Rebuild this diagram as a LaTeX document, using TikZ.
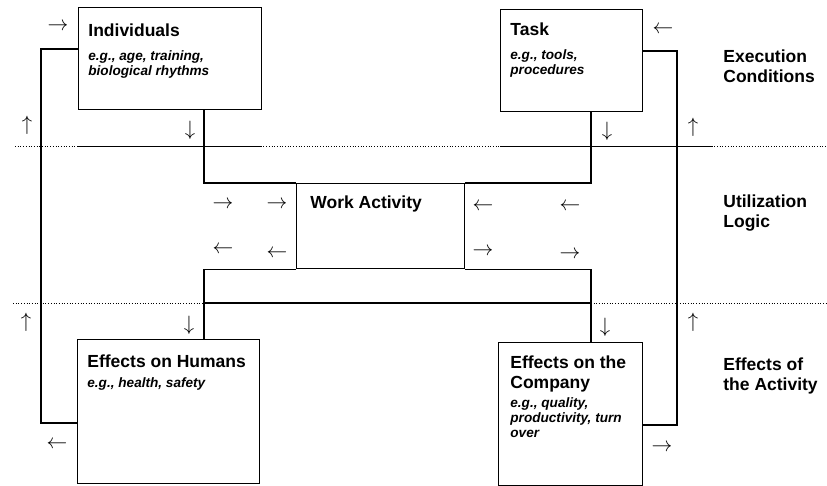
\documentclass[tikz,border=0pt]{standalone}
\usepackage{fontspec}
\setmainfont{Liberation Sans}
\usetikzlibrary{calc, positioning}

\begin{document}
\begin{tikzpicture}[x=1pt, y=-1pt, thick, >=stealth]

		\useasboundingbox (0,0) rectangle (827,486);

		% Define block styles
		\tikzstyle{box} = [rectangle, draw, line width=1.1pt, anchor=north west, inner sep=0pt]
		\tikzstyle{boxtitle} = [anchor=base west, inner sep=0pt, align=left, font=\fontsize{17.5}{20}\selectfont\bfseries]
		\tikzstyle{boxnote} = [anchor=base west, inner sep=0pt, align=left, font=\fontsize{13.6}{15}\selectfont\bfseries\itshape]
		\tikzstyle{flow} = [inner sep=0pt, font=\huge]
		\tikzstyle{link} = [line width=1.1pt]
		\tikzstyle{divider} = [dotted, line width=0.7pt]

		% Boxes
		\node[box, minimum width=183pt, minimum height=102pt] (indiv) at (78,7) {};
		\node[box, minimum width=142pt, minimum height=102pt] (task) at (500,9) {};
		\node[box, minimum width=168pt, minimum height=85pt] (work) at (296,183) {};
		\node[box, minimum width=182pt, minimum height=144pt] (humans) at (77,339) {};
		\node[box, minimum width=144pt, minimum height=143pt] (company) at (498,342) {};

		% Box texts (multi-line texts sit on their last line)
		\node[boxtitle] (indivtitle) at ($(indiv.north west)+(10,30)$) {Individuals};
		\node[boxnote] (indivnote) at ($(indiv.north west)+(10,69)$) {e.g., age, training,\\biological rhythms};
		\node[boxtitle] (tasktitle) at ($(task.north west)+(10,27)$) {Task};
		\node[boxnote] (tasknote) at ($(task.north west)+(10,66)$) {e.g., tools,\\procedures};
		\node[boxtitle] (worktitle) at ($(work.north west)+(14,26)$) {Work Activity};
		\node[boxtitle] (humanstitle) at ($(humans.north west)+(10,28)$) {Effects on Humans};
		\node[boxnote] (humansnote) at ($(humans.north west)+(10,48)$) {e.g., health, safety};
		\node[boxtitle] (companytitle) at ($(company.north west)+(12,46)$) {Effects on the\\Company};
		\node[boxnote] (companynote) at ($(company.north west)+(12,95)$) {e.g., quality,\\productivity, turn\\over};

		% Levels
		\node[boxtitle] (exec) at (723,83) {Execution\\Conditions};
		\node[boxtitle] (util) at (723,228) {Utilization\\Logic};
		\node[boxtitle] (effects) at (723,390) {Effects of\\the Activity};

		% Dividers
		\coordinate (topsep) at (15,146);
		\coordinate (botsep) at (13,303);
		\draw[divider] (topsep) -- (topsep -| 827,0);
		\draw[divider] (botsep) -- (botsep -| 827,0);
		\draw[line width=0.7pt] (topsep -| indiv.west) -- (topsep -| indiv.east);
		\draw[line width=0.7pt] (topsep -| task.west) -- (topsep -| 713,0);

		% Links
		\coordinate (lft) at (204,0);
		\coordinate (rgt) at (591,0);
		\coordinate (loopl) at (41,0);
		\coordinate (loopr) at (677,0);
		\draw[link] (indiv.south -| lft) |- (work.north west);
		\draw[link] (task.south -| rgt) |- (work.north east);
		\draw[link] (work.south west) -| (humans.north -| lft);
		\draw[link] (work.south east) -| (company.north -| rgt);
		\draw[link] (botsep -| lft) -- (botsep -| rgt);
		\coordinate (humansout) at ($(humans.north west)+(0,84)$);
		\coordinate (indivin) at ($(indiv.north west)+(0,42)$);
		\coordinate (companyout) at ($(company.north east)+(0,83)$);
		\coordinate (taskin) at ($(task.north east)+(0,42)$);
		\draw[link] (humansout) -- (humansout -| loopl) -- (indivin -| loopl) -- (indivin);
		\draw[link] (companyout) -- (companyout -| loopr) -- (taskin -| loopr) -- (taskin);

		% Direction marks
		\node[flow] (a1) at (58,27) {$\rightarrow$};
		\node[flow] (a2) at (27,125) {$\uparrow$};
		\node[flow] (a3) at (190,130) {$\downarrow$};
		\node[flow] (a4) at (663,30) {$\leftarrow$};
		\node[flow] (a5) at (607,131) {$\downarrow$};
		\node[flow] (a6) at (693,127) {$\uparrow$};
		\node[flow] (a7) at (223,205) {$\rightarrow$};
		\node[flow] (a8) at (277,205) {$\rightarrow$};
		\node[flow] (a9) at (483,207) {$\leftarrow$};
		\node[flow] (a10) at (570,207) {$\leftarrow$};
		\node[flow] (a11) at (223,250) {$\leftarrow$};
		\node[flow] (a12) at (277,254) {$\leftarrow$};
		\node[flow] (a13) at (483,252) {$\rightarrow$};
		\node[flow] (a14) at (570,255) {$\rightarrow$};
		\node[flow] (a15) at (26,322) {$\uparrow$};
		\node[flow] (a16) at (189,325) {$\downarrow$};
		\node[flow] (a17) at (57,445) {$\leftarrow$};
		\node[flow] (a18) at (605,327) {$\downarrow$};
		\node[flow] (a19) at (693,322) {$\uparrow$};
		\node[flow] (a20) at (662,448) {$\rightarrow$};

\end{tikzpicture}
\end{document}
